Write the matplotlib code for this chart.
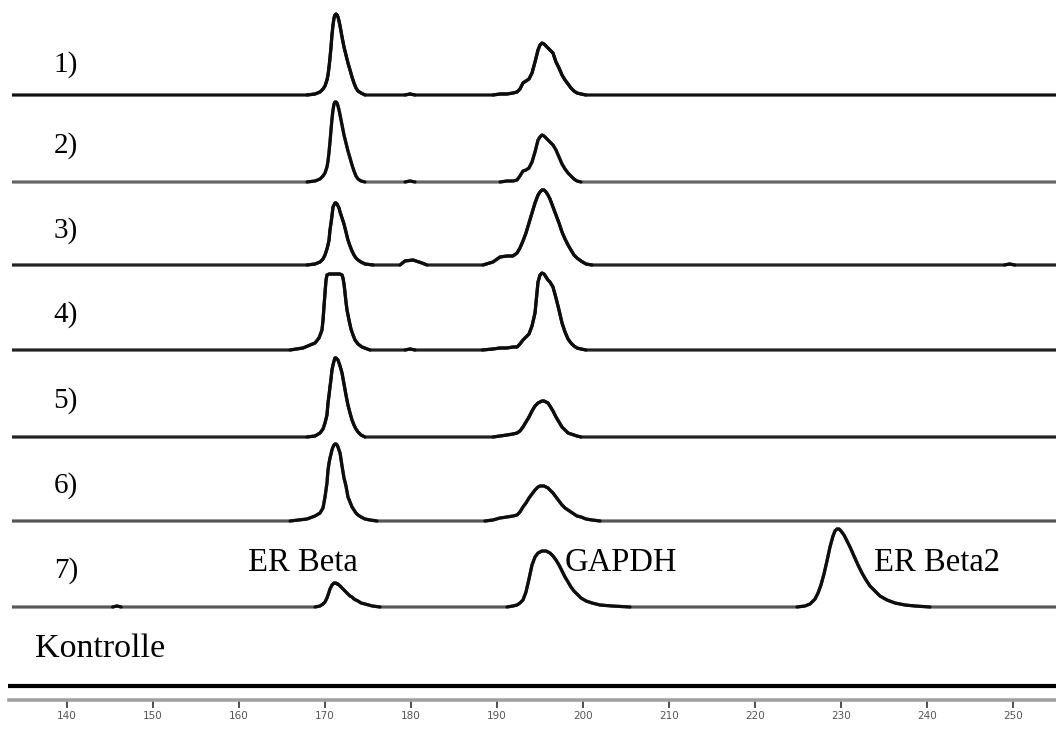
import matplotlib
matplotlib.use("Agg")
import matplotlib.pyplot as plt
import numpy as np

# ---- data: fragment size (bp) and signal height per trace ----
trace_labels = ["1)", "2)", "3)", "4)", "5)", "6)", "7)"]
control_label = "Kontrolle"
peak_names = ["ER Beta", "GAPDH", "ER Beta2"]
tick_values = [140, 150, 160, 170, 180, 190, 200, 210, 220, 230, 240, 250]

# sampling positions across the ER Beta peak (bp)
er_bp = [167.91, 168.84, 169.42, 169.77, 170.0, 170.23, 170.35, 170.47, 170.58, 170.70,
         170.81, 170.93, 171.05, 171.16, 171.28, 171.40, 171.51, 171.63, 171.75, 171.98,
         172.21, 172.44, 172.67, 172.91, 173.14, 173.37, 173.60, 173.84, 174.19, 174.65]
er_h1 = [0, 1, 3, 6, 9, 15, 20, 28, 37, 48, 60, 70, 77, 80, 81, 80, 78, 74, 69, 58,
         48, 40, 32, 25, 18, 12, 7, 4, 2, 0]
er_h2 = [0, 1, 3, 6, 9, 15, 21, 30, 40, 52, 63, 72, 78, 80, 80, 79, 76, 72, 67, 57,
         47, 39, 31, 24, 17, 11, 6, 3, 1, 0]
er_h3 = [0, 1, 3, 6, 10, 16, 20, 25, 35, 42, 49, 58, 60, 62, 62, 61, 59, 57, 53, 47,
         41, 33, 25, 19, 14, 10, 7, 5, 3, 1]
er_h5 = [0, 1, 4, 8, 14, 22, 34, 42, 50, 58, 67, 72, 76, 79, 79, 78, 77, 74, 71, 64,
         53, 42, 32, 24, 17, 12, 8, 5, 2, 0]
er_h6 = [2, 5, 8, 13, 24, 38, 51, 58, 63, 67, 71, 74, 76, 77, 77, 76, 74, 71, 68, 55,
         43, 35, 24, 19, 14, 11, 8, 6, 4, 2]
er_h7 = [0, 0, 1, 3, 5, 9, 12, 15, 18, 20, 22, 23, 24, 24, 24, 23, 23, 22, 21, 19,
         17, 15, 13, 11, 10, 8, 7, 6, 4, 3]

# ER Beta in trace 4 (saturated, flat top)
er4_bp = [165.93, 167.44, 168.84, 169.30, 169.65, 169.77, 169.88, 170.0, 170.12, 170.23,
          170.47, 171.74, 171.98, 172.09, 172.21, 172.33, 172.44, 172.56, 172.79, 173.02,
          173.26, 173.49, 173.84, 174.30, 175.23]
er4_h = [0, 2, 7, 12, 20, 30, 43, 57, 70, 75, 76, 76, 75, 72, 66, 57, 48, 40, 30, 21,
         15, 10, 6, 3, 0]

# sampling positions across the GAPDH peak (bp)
gapdh_bp = [189.53, 190.35, 191.16, 191.86, 192.33, 192.67, 193.02, 193.37, 193.72, 194.07,
            194.42, 194.77, 195.0, 195.23, 195.47, 195.70, 195.93, 196.16, 196.51, 196.86,
            197.21, 197.56, 197.91, 198.26, 198.60, 198.95, 199.30, 199.77, 200.35, 201.05,
            201.98]
gapdh_h1 = [0, 1, 1, 2, 3, 6, 12, 14, 16, 22, 33, 45, 50, 52, 51, 49, 47, 45, 42, 33,
            27, 20, 15, 11, 7, 4, 2, 1, 0, 0, 0]
gapdh_h2 = [0, 0, 1, 1, 2, 6, 11, 12, 14, 20, 30, 42, 45, 47, 46, 44, 42, 40, 37, 32,
            25, 18, 13, 9, 6, 3, 1, 0, 0, 0, 0]
gapdh_h3 = [3, 8, 9, 9, 12, 17, 24, 32, 42, 52, 62, 70, 73, 75, 75, 73, 70, 66, 58, 50,
            42, 33, 26, 20, 15, 10, 7, 4, 1, 0, 0]
gapdh_h4 = [1, 2, 2, 3, 3, 6, 10, 13, 16, 24, 37, 68, 75, 77, 76, 73, 70, 68, 63, 52,
            40, 27, 18, 11, 7, 4, 2, 1, 0, 0, 0]
gapdh_h5 = [0, 1, 2, 3, 4, 6, 10, 15, 20, 26, 31, 34, 35, 36, 36, 35, 34, 31, 26, 20,
            15, 10, 7, 4, 3, 2, 1, 0, 0, 0, 0]
gapdh_h6 = [1, 3, 4, 5, 6, 9, 14, 18, 23, 27, 31, 34, 35, 35, 35, 34, 33, 31, 28, 24,
            20, 16, 13, 11, 9, 7, 5, 4, 2, 1, 0]
gapdh_h7 = [0, 0, 0, 1, 2, 4, 7, 15, 28, 42, 50, 54, 55, 56, 56, 56, 55, 54, 51, 47,
            42, 36, 30, 25, 20, 16, 13, 9, 6, 4, 2]

# ER Beta2 (only in trace 7)
erb2_bp = [224.88, 225.81, 226.40, 226.98, 227.33, 227.67, 228.02, 228.37, 228.72, 229.07,
           229.30, 229.53, 229.77, 230.0, 230.35, 230.70, 231.05, 231.51, 231.98, 232.44,
           232.91, 233.37, 233.95, 234.53, 235.35, 236.28, 237.44, 238.60, 240.35]
erb2_h = [0, 1, 3, 8, 14, 22, 33, 46, 60, 71, 76, 78, 78, 76, 72, 66, 60, 51, 42, 34,
          27, 21, 16, 11, 7, 4, 2, 1, 0]

# small features on the baseline
bump180_bp = [179.3, 179.88, 180.47]
bump180_h = [0, 1, 0]
bump3_bp = [178.72, 179.30, 180.23, 181.28, 181.86]
bump3_h = [0, 4, 5, 2, 0]

start_bp, end_bp = 133.6, 255.0

t1_bp = [start_bp] + er_bp + bump180_bp + gapdh_bp + [end_bp]
t1_h = [0] + er_h1 + bump180_h + gapdh_h1 + [0]
t2_bp = [start_bp] + er_bp + bump180_bp + gapdh_bp + [end_bp]
t2_h = [0] + er_h2 + bump180_h + gapdh_h2 + [0]
t3_bp = [start_bp] + er_bp + [175.6] + bump3_bp + [188.37] + gapdh_bp + [249.0, 249.6, 250.2, end_bp]
t3_h = [0] + er_h3 + [0] + bump3_h + [0] + gapdh_h3 + [0, 1, 0, 0]
t4_bp = [start_bp] + er4_bp + bump180_bp + [188.3] + gapdh_bp + [end_bp]
t4_h = [0] + er4_h + bump180_h + [0] + gapdh_h4 + [0]
t5_bp = [start_bp] + er_bp + gapdh_bp + [end_bp]
t5_h = [0] + er_h5 + gapdh_h5 + [0]
t6_bp = [start_bp, 165.93] + er_bp + [175.23, 176.05, 188.6] + gapdh_bp + [end_bp]
t6_h = [0, 0] + er_h6 + [1, 0, 0] + gapdh_h6 + [0]
t7_bp = [start_bp, 145.3, 145.81, 146.3] + er_bp + [175.5, 176.4] + gapdh_bp + [203.37, 205.47] + erb2_bp + [end_bp]
t7_h = [0, 0, 1, 0] + er_h7 + [1, 0] + gapdh_h7 + [1, 0] + erb2_h + [0]

traces_bp = [t1_bp, t2_bp, t3_bp, t4_bp, t5_bp, t6_bp, t7_bp]
traces_h = [t1_h, t2_h, t3_h, t4_h, t5_h, t6_h, t7_h]

# ---- layout / style ----
W, H = 1056, 731
fig = plt.figure(figsize=(W / 100, H / 100), dpi=100)
ax = fig.add_axes([0, 31 / H, 1, 700 / H])
ax.set_xlim(132.21, 255.0)
ax.set_ylim(0, 700)

baselines = [605, 518, 435, 350, 263, 179, 93]
base_colors = ["#111111", "#666666", "#222222", "#222222", "#222222", "#555555", "#5a5a5a"]
for bp, h, base, bc in zip(traces_bp, traces_h, baselines, base_colors):
    xv = np.array(bp, dtype=float)
    hv = np.array(h, dtype=float)
    y = base + hv
    ax.plot(xv, y, color=bc, lw=2.3, solid_joinstyle="round", solid_capstyle="butt")
    # peaks drawn in black over the (possibly grey) baseline: runs of segments with signal
    active = np.maximum(hv[:-1], hv[1:]) > 0
    i = 0
    n = len(active)
    while i < n:
        if active[i]:
            j = i
            while j < n and active[j]:
                j += 1
            ax.plot(xv[i:j + 1], y[i:j + 1], color="#0d0d0d", lw=2.3,
                    solid_joinstyle="round", solid_capstyle="round")
            i = j
        else:
            i += 1

# control (flat) trace
ax.plot([133.15, 255.0], [14, 14], color="black", lw=3.0, solid_capstyle="butt")

serif = ["Liberation Serif", "DejaVu Serif"]
label_baselines = [628, 547, 462, 378, 292, 207, 122]
for lab, yb in zip(trace_labels, label_baselines):
    ax.text(138.45, yb, lab, fontsize=21, family=serif, ha="left", va="baseline", color="black")

ax.text(136.28, 43, control_label, fontsize=24.5, family=serif, ha="left", va="baseline", color="black")
name_x = [161.05, 197.91, 233.84]
for name, x in zip(peak_names, name_x):
    ax.text(x, 129, name, fontsize=23.5, family=serif, ha="left", va="baseline", color="black")

for s in ["top", "left", "right"]:
    ax.spines[s].set_visible(False)
ax.spines["bottom"].set_color("#a0a0a0")
ax.spines["bottom"].set_linewidth(2.6)
ax.spines["bottom"].set_bounds(133.3, 255.0)
ax.set_yticks([])
ax.set_xticks(tick_values)
ax.set_xticklabels([str(t) for t in tick_values])
ax.tick_params(axis="x", direction="out", length=6, width=1.2, color="#333333",
               labelsize=7.5, labelcolor="#555555", pad=2)

fig.savefig("out.png", dpi=100, facecolor="white")
